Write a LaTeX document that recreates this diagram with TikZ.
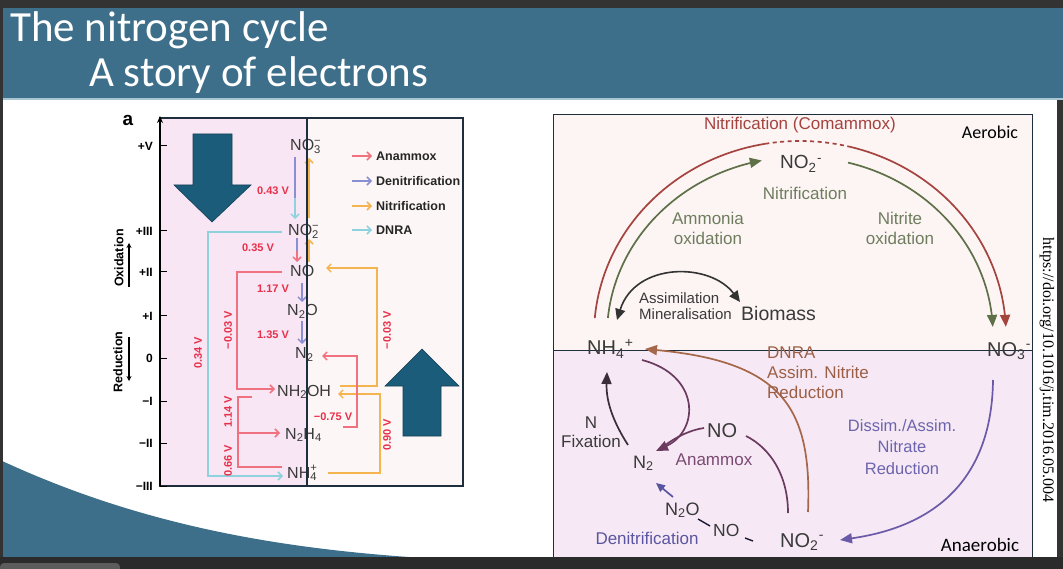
\documentclass[tikz,border=0pt]{standalone}
\usepackage{fontspec}
\setmainfont{Liberation Sans}
\newfontfamily\titlefont{Carlito}
\newfontfamily\doifont{Liberation Serif}
\usetikzlibrary{arrows.meta}
\definecolor{banner}{HTML}{3E6F8A}
\definecolor{bannerline}{HTML}{A9C4D2}
\definecolor{darkbg}{HTML}{333333}
\definecolor{arrowblue}{HTML}{1B5C7A}
\definecolor{pinkL}{HTML}{F8E6F4}
\definecolor{pinkR}{HTML}{FDF6F6}
\definecolor{frame}{HTML}{1E2E3C}
\definecolor{anam}{HTML}{F0717F}
\definecolor{denit}{HTML}{8A8ED2}
\definecolor{nitr}{HTML}{F4B450}
\definecolor{dnra}{HTML}{8ED2DE}
\definecolor{volt}{HTML}{E8304A}
\definecolor{species}{HTML}{3A3A3A}
\definecolor{aerobg}{HTML}{FCF5F4}
\definecolor{anaebg}{HTML}{F6E9F5}
\definecolor{comred}{HTML}{A5433F}
\definecolor{nitgreen}{HTML}{5F7048}
\definecolor{txtgreen}{HTML}{6F7D5E}
\definecolor{dnrabrown}{HTML}{A5674A}
\definecolor{dnratxt}{HTML}{9C5F45}
\definecolor{dissim}{HTML}{6A5AA8}
\definecolor{dissimtxt}{HTML}{6C64AD}
\definecolor{plum}{HTML}{6B3A5F}
\definecolor{plumtxt}{HTML}{7B4A73}
\definecolor{denitblue}{HTML}{5A55A0}
\definecolor{fixdark}{HTML}{3B2D3B}
\newcommand{\spc}[3]{#1\rlap{\textsubscript{#2}}\textsuperscript{#3}}
\newcommand{\spr}[3]{#1\textsubscript{#2}\kern0.5pt\textsuperscript{#3}}
\begin{document}
\begin{tikzpicture}[x=1pt,y=-1pt,
  species/.style={text=species, font=\fontsize{16}{18}\selectfont, inner sep=0pt, anchor=base west},
  volts/.style={text=volt, font=\bfseries\fontsize{11}{12}\selectfont, inner sep=0pt},
  legendtxt/.style={font=\bfseries\fontsize{12.5}{14}\selectfont, text=black!85, anchor=west, inner sep=0pt},
  axislbl/.style={font=\bfseries\fontsize{12}{14}\selectfont, inner sep=0pt, anchor=east},
  thin/.style={line width=1.5pt},
  barb/.style={-{Straight Barb[length=4pt,width=8pt]}},
  rtxt/.style={font=\fontsize{17}{20}\selectfont, inner sep=0pt},
  rspec/.style={text=species, inner sep=0pt, anchor=base west},
  tri/.style={-{Triangle[length=12pt,width=10pt]}},
  blockarrow/.style={fill=arrowblue, draw=arrowblue!70!black, line width=0.6pt},
]
\useasboundingbox (0,0) rectangle (1063,569);
\fill[white] (0,0) rectangle (1063,569);
% banner
\fill[banner] (0,8) rectangle (1063,98);
\fill[bannerline] (0,98) rectangle (1063,100);
\node[font=\titlefont\fontsize{43}{46}\selectfont, text=white, anchor=base west, inner sep=0pt] (t1) at (10,42) {The nitrogen cycle};
\node[font=\titlefont\fontsize{43}{46}\selectfont, text=white, anchor=base west, inner sep=0pt] (t2) at (89,87) {A story of electrons};
% swoosh
\fill[banner] (0,460) .. controls (140,525) and (280,550) .. (440,559) -- (0,559) -- cycle;

% ================= LEFT PANEL =================
\fill[pinkL] (160,118) rectangle (307,486);
\fill[pinkR] (307,118) rectangle (463,486);
% block arrows
\fill[blockarrow] (193,134) -- (232,134) -- (232,185) -- (251,185) -- (212,222) -- (174,185) -- (193,185) -- cycle;
\fill[blockarrow] (403,436) -- (441,436) -- (441,386) -- (459,386) -- (422,349) -- (385,386) -- (403,386) -- cycle;

% species
\node[species] (n3) at (290,151) {\spc{NO}{3}{−}};
\node[species] (n2) at (288,236) {\spc{NO}{2}{−}};
\node[species] (no) at (290,277) {NO};
\node[species] (n2o) at (287,316) {N\textsubscript{2}O};
\node[species] (nn) at (295,359) {N\textsubscript{2}};
\node[species] (nh2oh) at (277,396) {NH\textsubscript{2}OH};
\node[species] (n2h4) at (285,439) {N\textsubscript{2}H\textsubscript{4}};
\node[species] (nh4) at (287,478) {\spc{NH}{4}{+}};

% central arrows
\draw[dnra, thin, barb] (295,157) -- (295,219);
\draw[denit, thin] (295,157) -- (295,198);
\draw[anam, thin, barb] (297,244) -- (297,262);
\draw[denit, thin] (297,238) -- (297,251);
\draw[denit, thin, barb] (302,283) -- (302,302);
\draw[denit, thin, barb] (302,321) -- (302,344);
\draw[nitr, thin, barb] (309,218) -- (309,158);
\draw[nitr, thin, barb] (309,262) -- (309,239);

% left brackets
\coordinate (dnraA) at (282,232);
\coordinate (anA) at (282,272);
\draw[dnra, thin, barb] (dnraA) -- (208,232) -- (208,476) -- (283,476);
\draw[anam, thin, barb] (anA) -- (237,272) -- (237,389) -- (275,389);
\draw[anam, thin] (252,397) -- (238,397) -- (238,467) -- (282,467);
\draw[anam, thin, barb] (238,433) -- (280,433);

% right brackets
\draw[nitr, thin, barb] (328,473) -- (380,473) -- (380,394) -- (338,394);
\draw[nitr, thin, barb] (340,386) -- (377,386) -- (377,268) -- (326,268);
\draw[anam, thin, barb] (343,427) -- (357,427) -- (357,356) -- (322,356);

% voltages
\node[volts] (v1) at (273,191) {0.43 V};
\node[volts] (v2) at (258,248) {0.35 V};
\node[volts] (v3) at (273,289) {1.17 V};
\node[volts] (v4) at (273,335) {1.35 V};
\node[volts, rotate=90] (v5) at (198,353) {0.34 V};
\node[volts, rotate=90] (v6) at (228,330) {−0.03 V};
\node[volts, rotate=90] (v7) at (228,412) {1.14 V};
\node[volts, rotate=90] (v8) at (228,461) {0.66 V};
\node[volts, rotate=90] (v9) at (387,330) {−0.03 V};
\node[volts, rotate=90] (v10) at (387,435) {0.90 V};
\node[volts] (v11) at (333,417) {−0.75 V};

% legend
\draw[anam, thin, barb] (352,156) -- (372,156);
\node[legendtxt] (lg1) at (376,156) {Anammox};
\draw[denit, thin, barb] (352,181) -- (372,181);
\node[legendtxt] (lg2) at (376,181) {Denitrification};
\draw[nitr, thin, barb] (352,206) -- (372,206);
\node[legendtxt] (lg3) at (376,206) {Nitrification};
\draw[dnra, thin, barb] (352,230) -- (372,230);
\node[legendtxt] (lg4) at (376,230) {DNRA};

% frame, divider
\draw[frame, line width=1.1pt] (160,118) rectangle (463,486);
\draw[frame, line width=1.1pt] (307,118) -- (307,486);
\draw[black, line width=1.3pt, -{Stealth[length=7pt,width=6pt]}] (160,486) -- (160,116);
\foreach \yy/\lab in {146/+V,231/+III,272/+II,316/+I,358/0,401/−I,443/−II,486/−III}{
  \draw[black, line width=1pt] (160,\yy) -- (167,\yy);
  \node[axislbl] at (153,\yy) {\lab};
}
\node[font=\bfseries\fontsize{19}{20}\selectfont, inner sep=0pt] (alab) at (128,120) {a};
\node[font=\bfseries\fontsize{12.5}{14}\selectfont, rotate=90, inner sep=0pt] (oxl) at (119,258) {Oxidation};
\draw[black, line width=1.5pt, -{Stealth[length=5pt,width=5pt]}] (129,287) -- (129,243);
\node[font=\bfseries\fontsize{12.5}{14}\selectfont, rotate=90, inner sep=0pt] (redl) at (118,362) {Reduction};
\draw[black, line width=1.5pt, -{Stealth[length=5pt,width=5pt]}] (129,337) -- (129,381);

% ================= RIGHT PANEL =================
\fill[aerobg] (553,114) rectangle (1032,350);
\fill[anaebg] (553,350) rectangle (1032,560);
\draw[frame, line width=0.9pt] (553,560) -- (553,114) -- (1032,114) -- (1032,560);
\draw[frame, line width=0.9pt] (553,350) -- (1032,350);

% arcs
\draw[comred, line width=1.7pt] plot[domain=185:260.3, samples=40, smooth, variable=\t] ({800+206*cos(\t)},{335+194*sin(\t)});
\draw[comred, line width=1.7pt, dash pattern=on 4pt off 3.5pt] plot[domain=260.3:284, samples=20, smooth, variable=\t] ({800+206*cos(\t)},{335+194*sin(\t)});
\draw[comred, line width=1.7pt, tri] plot[domain=284:357.6, samples=40, smooth, variable=\t] ({800+206*cos(\t)},{335+194*sin(\t)});
\draw[nitgreen, line width=1.7pt, tri] plot[domain=185.5:258.6, samples=40, smooth, variable=\t] ({800+193*cos(\t)},{335+178*sin(\t)});
\draw[nitgreen, line width=1.7pt, tri] plot[domain=284.4:357.4, samples=40, smooth, variable=\t] ({800+193*cos(\t)},{335+178*sin(\t)});

\coordinate (asA) at (617,320);
\coordinate (asB) at (740,302);
\draw[black!80, line width=1.6pt, {Triangle[length=11pt,width=10pt]}-{Triangle[length=11pt,width=10pt]}] (asA) .. controls (635,262) and (710,262) .. (asB);

\coordinate (dnA) at (808,512);
\coordinate (dnB) at (645,349);
\draw[dnrabrown, line width=1.7pt, tri] (dnA) .. controls (812,410) and (785,362) .. (dnB);

\coordinate (dsA) at (993,380);
\coordinate (dsB) at (840,540);
\draw[dissim, line width=1.7pt, tri] (dsA) .. controls (992,470) and (945,525) .. (dsB);

\coordinate (fxA) at (628,445);
\coordinate (fxB) at (607,372);
\draw[fixdark, line width=1.7pt, tri] (fxA) .. controls (612,420) and (606,400) .. (fxB);

\coordinate (amA) at (642,360);
\coordinate (amB) at (656,451);
\draw[plum, line width=1.7pt, tri] (amA) .. controls (700,375) and (700,430) .. (amB);
\draw[plum, line width=1.7pt] (704,428) .. controls (690,430) and (676,437) .. (664,446);
\draw[plum, line width=1.7pt] (746,436) .. controls (770,448) and (788,475) .. (788,513);

\draw[denitblue, line width=1.7pt, -{Triangle[length=9pt,width=8pt]}] (673,497) -- (656,483);
\draw[black!70!denitblue, line width=1.4pt] (698,519) -- (710,526);
\draw[black!70!denitblue, line width=1.4pt] (745,538) -- (753,541);

% right texts
\node[rtxt, text=comred] (comtxt) at (800,125) {Nitrification (Comammox)};
\node[font=\titlefont\fontsize{18}{20}\selectfont, inner sep=0pt] (aer) at (990,132) {Aerobic};
\node[rspec, font=\fontsize{19}{21}\selectfont] (no2t) at (780,169) {\spr{NO}{2}{-}};
\node[rtxt, text=txtgreen] (nitt) at (805,193) {Nitrification};
\node[rtxt, text=txtgreen, align=center] (amox) at (708,228) {Ammonia\\oxidation};
\node[rtxt, text=txtgreen, align=center] (niox) at (900,228) {Nitrite\\oxidation};
\node[font=\fontsize{15}{16}\selectfont, text=species, align=left, anchor=west, inner sep=0pt] (assim) at (639,306) {Assimilation\\Mineralisation};
\node[font=\fontsize{19.5}{21}\selectfont, text=species, anchor=west, inner sep=0pt] (bio) at (741,314) {Biomass};
\node[rspec, font=\fontsize{20}{22}\selectfont] (nh4r) at (587,355) {\spr{NH}{4}{+}};
\node[rspec, font=\fontsize{20}{22}\selectfont] (no3r) at (987,356) {\spr{NO}{3}{-}};
\node[rtxt, text=dnratxt, align=left, anchor=west] (dnratxt) at (767,373) {DNRA\\Assim. Nitrite\\Reduction};
\node[font=\fontsize{16.5}{21.5}\selectfont, text=dissimtxt, align=center, inner sep=0pt] (dstxt) at (902,447) {Dissim./Assim.\\Nitrate\\Reduction};
\node[font=\fontsize{17}{19}\selectfont, text=species, align=center, inner sep=0pt] (fix) at (591,432) {N\\Fixation};
\node[rspec, font=\fontsize{20}{22}\selectfont] (nom) at (707,437) {NO};
\node[rtxt, text=plumtxt] (anmx) at (714,460) {Anammox};
\node[rspec, font=\fontsize{18}{20}\selectfont] (n2r) at (633,468) {N\textsubscript{2}};
\node[rspec, font=\fontsize{18}{20}\selectfont] (n2or) at (665,515) {N\textsubscript{2}O};
\node[rspec, font=\fontsize{17.5}{20}\selectfont] (nob) at (713,536) {NO};
\node[rspec, font=\fontsize{20}{22}\selectfont] (no2b) at (780,547) {\spr{NO}{2}{-}};
\node[rtxt, text=denitblue] (dntxt) at (647,538) {Denitrification};
\node[font=\titlefont\fontsize{19}{20}\selectfont, inner sep=0pt] (anaer) at (980,545) {Anaerobic};

% doi
\node[font=\doifont\fontsize{16}{18}\selectfont, rotate=-90, inner sep=0pt] (doi) at (1047,370) {https://doi.org/10.1016/j.tim.2016.05.004};

% dark window edges
\fill[darkbg] (0,0) rectangle (1063,8);
\fill[darkbg] (0,0) rectangle (3,569);
\fill[darkbg] (1057,100) rectangle (1063,569);
\fill[darkbg!85!black] (0,557) rectangle (1063,569);
\fill[darkbg!80!white, rounded corners=4pt] (0,563) rectangle (120,572);
\end{tikzpicture}
\end{document}
